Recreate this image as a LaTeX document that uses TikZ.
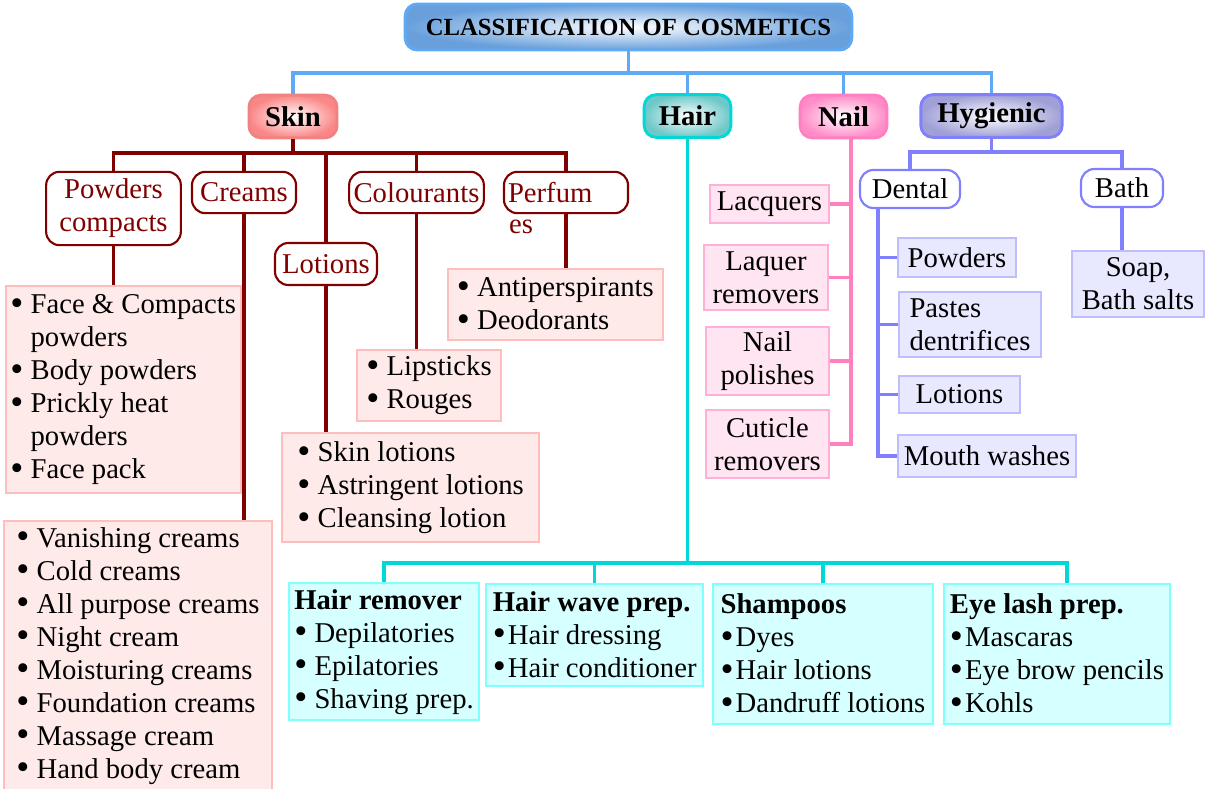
\documentclass[tikz,border=0pt]{standalone}
\usepackage{fontspec}
\usepackage{graphicx}
\setmainfont{Liberation Serif}
\usetikzlibrary{calc}

\definecolor{topblue}{RGB}{95,170,245}
\definecolor{titleshade}{RGB}{105,160,220}
\definecolor{skinpink}{RGB}{240,130,130}
\definecolor{skinshade}{RGB}{250,135,135}
\definecolor{skinred}{RGB}{128,0,0}
\definecolor{skinedge}{RGB}{255,190,190}
\definecolor{skinfill}{RGB}{255,234,234}
\definecolor{haircyan}{RGB}{0,215,215}
\definecolor{hairshade}{RGB}{110,200,200}
\definecolor{hairedge}{RGB}{128,255,255}
\definecolor{hairfill}{RGB}{214,255,255}
\definecolor{nailpink}{RGB}{255,128,192}
\definecolor{nailshade}{RGB}{255,140,200}
\definecolor{nailedge}{RGB}{255,176,216}
\definecolor{nailfill}{RGB}{255,228,242}
\definecolor{hygblue}{RGB}{128,128,255}
\definecolor{hygshade}{RGB}{160,160,215}
\definecolor{hygedge}{RGB}{190,190,255}
\definecolor{hygfill}{RGB}{232,232,255}

\newcommand{\bodyfont}{\fontsize{21.5}{24.75}\selectfont}
\newcommand{\bul}{\raisebox{-0.06em}{\scalebox{1.3}{\textbullet}}}
\newcommand{\itm}{\bul\ }
\newcommand{\itt}{\bul\kern1.5pt}
\newcommand{\ind}{\hphantom{\bul\ }}

\tikzset{
	topbox/.style={rounded corners=9pt, line width=2.2pt, inner color=white, font=\bfseries\bodyfont, minimum height=32pt},
	catbox/.style={draw=skinred, line width=1.6pt, rounded corners=10pt, fill=white, text=skinred, font=\bodyfont, align=center, inner sep=2pt},
	skinleaf/.style={draw=skinedge, fill=skinfill, line width=1.5pt, font=\bodyfont, align=left, anchor=north west},
	hairleaf/.style={draw=hairedge, fill=hairfill, line width=1.5pt, font=\bodyfont, align=left, anchor=north west, inner xsep=4pt},
	nailleaf/.style={draw=nailedge, fill=nailfill, line width=1.5pt, font=\bodyfont, align=center, inner sep=2pt},
	hygcat/.style={draw=hygblue, line width=1.6pt, rounded corners=10pt, fill=white, font=\bodyfont, inner sep=2pt},
	hygleaf/.style={draw=hygedge, fill=hygfill, line width=1.5pt, font=\bodyfont, align=center, inner sep=3pt},
	topln/.style={draw=topblue, line width=2.4pt},
	skinln/.style={draw=skinred, line width=2.4pt},
	hairln/.style={draw=haircyan, line width=2.4pt},
	nailln/.style={draw=nailpink, line width=2.4pt},
	hygln/.style={draw=hygblue, line width=2.4pt}
}

\begin{document}
\begin{tikzpicture}[x=0.75pt,y=-0.75pt]
		\useasboundingbox (0,0) rectangle (1207,789);
		
		% top level
		\node (title) at (628.5,27) [topbox, draw=topblue, outer color=titleshade, minimum width=335pt, minimum height=34.5pt, font=\bfseries\fontsize{18.5}{20}\selectfont] {CLASSIFICATION OF COSMETICS};
		\node (skin) at (293,116.5) [topbox, draw=skinpink, outer color=skinshade, minimum width=66pt] {Skin};
		\node (hair) at (687.5,116) [topbox, draw=haircyan, outer color=hairshade, minimum width=65pt] {Hair};
		\node (nail) at (843.5,116.5) [topbox, draw=nailpink, outer color=nailshade, minimum width=65pt] {Nail};
		\node (hyg) at (991.5,116) [topbox, draw=hygblue, outer color=hygshade, minimum width=106pt] {Hygienic};
		
		\coordinate (topbus) at (0,73);
		\draw[topln] (title.south) -- (title.south |- topbus);
		\draw[topln] (skin.north) |- (hyg.north |- topbus) -- (hyg.north);
		\draw[topln] (hair.north) -- (hair.north |- topbus);
		\draw[topln] (nail.north) -- (nail.north |- topbus);
		
		% skin
		\node (powc) at (113.5,208.5) [catbox, minimum width=101pt, minimum height=55pt] {Powders\\compacts};
		\node (creams) at (244,192.5) [catbox, minimum width=78pt, minimum height=31pt] {Creams};
		\node (lotions) at (326,264) [catbox, minimum width=76.5pt, minimum height=31.5pt] {Lotions};
		\node (colour) at (416.5,192.5) [catbox, minimum width=101pt, minimum height=31pt] {Colourants};
		\node (perf) at (566,192.5) [catbox, minimum width=93pt, minimum height=31pt, text width=87pt, align=left] {Perfum};
		\node (perfes) at ($(perf.south west)+(6,5)$) [anchor=north west, inner sep=0pt, text=skinred, font=\bodyfont] {es};
		
		\node (powl) at (5,285) [skinleaf, minimum width=174pt, minimum height=155pt] {\itm Face \& Compacts\\ \ind powders\\ \itm Body powders\\ \itm Prickly heat\\ \ind powders\\ \itm Face pack};
		\node (crl) at (3,520) [skinleaf, minimum width=201pt, minimum height=202pt] {\itm Vanishing creams\\ \itm Cold creams\\ \itm All purpose creams\\ \itm Night cream\\ \itm Moisturing creams\\ \itm Foundation creams\\ \itm Massage cream\\ \itm Hand body cream};
		\node (lotl) at (281,432) [skinleaf, minimum width=193pt, minimum height=82pt] {\itm Skin lotions\\ \itm Astringent lotions\\ \itm Cleansing lotion};
		\node (coll) at (356,349) [skinleaf, minimum width=108pt, minimum height=53pt] {\itm Lipsticks\\ \itm Rouges};
		\node (perl) at (447,268) [skinleaf, minimum width=161pt, minimum height=53pt] {\itm Antiperspirants\\ \itm Deodorants};
		
		\coordinate (skinbus) at (0,153);
		\draw[skinln] (skin.south) -- (skin.south |- skinbus);
		\draw[skinln] (powc.north) |- (perf.north |- skinbus) -- (perf.north);
		\foreach \n in {creams,colour,lotions}
			\draw[skinln] (\n.north) -- (\n.north |- skinbus);
		\draw[skinln] (powc.south) -- (powc.south |- powl.north);
		\draw[skinln] (creams.south) -- (creams.south |- crl.north);
		\draw[skinln] (lotions.south) -- (lotions.south |- lotl.north);
		\draw[skinln] (colour.south) -- (colour.south |- coll.north);
		\draw[skinln] (perf.south) -- (perf.south |- perl.north);
		
		% hair
		\node (hrem) at (288,582) [hairleaf, minimum width=139.5pt, minimum height=103pt] {\textbf{Hair remover}\\ \itm Depilatories\\ \itm Epilatories\\ \itm Shaving prep.};
		\node (hwave) at (485,583) [hairleaf, minimum width=163pt, minimum height=76.5pt] {\textbf{Hair wave prep.}\\ \itt Hair dressing\\ \itt Hair conditioner};
		\node (shamp) at (712,583) [hairleaf, minimum width=165pt, minimum height=105pt] {\textbf{Shampoos}\\ \itt Dyes\\ \itt Hair lotions\\ \itt Dandruff lotions};
		\node (eyel) at (943,583) [hairleaf, minimum width=169.5pt, minimum height=105pt] {\textbf{Eye lash prep.}\\ \itt Mascaras\\ \itt Eye brow pencils\\ \itt Kohls};
		
		\coordinate (hairbus) at (0,563);
		\coordinate (eyetop) at ($(eyel.north)+(10,0)$);
		\draw[hairln] (hair.south) -- (hair.south |- hairbus);
		\draw[hairln] (hrem.north) |- (eyetop |- hairbus) -- (eyetop);
		\foreach \n in {hwave,shamp}
			\draw[hairln] (\n.north) -- (\n.north |- hairbus);
		
		% nail
		\node (lacq) at (769.5,204) [nailleaf, minimum width=89pt, minimum height=28.5pt] {Lacquers};
		\node (lqrem) at (766,277.5) [nailleaf, minimum width=93pt, minimum height=49pt] {Laquer\\removers};
		\node (polish) at (767.5,361) [nailleaf, minimum width=92pt, minimum height=51pt] {Nail\\polishes};
		\node (cuticle) at (767.5,444) [nailleaf, minimum width=92pt, minimum height=51pt] {Cuticle\\removers};
		
		\coordinate (nailbar) at (851,0);
		\draw[nailln] (nail.south -| nailbar) -- (cuticle.east -| nailbar) -- (cuticle.east);
		\foreach \n in {lacq,lqrem,polish}
			\draw[nailln] (\n.east) -- (\n.east -| nailbar);
		
		% hygienic
		\node (dental) at (910,189) [hygcat, minimum width=75pt, minimum height=28.5pt] {Dental};
		\node (bath) at (1122,188) [hygcat, minimum width=61.5pt, minimum height=28.5pt] {Bath};
		\node (dpow) at (957,257.5) [hygleaf, minimum width=88.5pt, minimum height=29pt] {Powders};
		\node (paste) at (970,324.5) [hygleaf, minimum width=106.5pt, minimum height=49pt, align=left] {Pastes\\dentrifices};
		\node (dlot) at (959.5,394.5) [hygleaf, minimum width=91pt, minimum height=28pt] {Lotions};
		\node (mouth) at (987,456) [hygleaf, minimum width=133.5pt, minimum height=31.5pt] {Mouth washes};
		\node (soap) at (1138,284) [hygleaf, minimum width=99pt, minimum height=49.5pt] {Soap,\\Bath salts};
		
		\coordinate (hygbus) at (0,152);
		\coordinate (dentbar) at (878,0);
		\draw[hygln] (hyg.south) -- (hyg.south |- hygbus);
		\draw[hygln] (dental.north) |- (bath.north |- hygbus) -- (bath.north);
		\draw[hygln] (dental.south -| dentbar) -- (mouth.west -| dentbar) -- (mouth.west);
		\foreach \n in {dpow,paste,dlot}
			\draw[hygln] (\n.west -| dentbar) -- (\n.west);
		\draw[hygln] (bath.south) -- (bath.south |- soap.north);
	\end{tikzpicture}
\end{document}
